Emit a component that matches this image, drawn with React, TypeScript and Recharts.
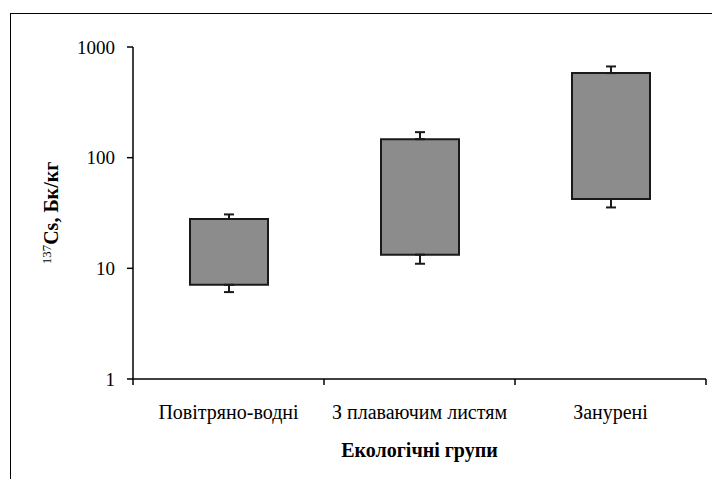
import React from 'react';
import { ComposedChart, Bar, XAxis, YAxis, ErrorBar } from 'recharts';

const categories = ['Повітряно-водні', 'З плаваючим листям', 'Занурені'];
const boxLow = [7.1, 13.3, 42.3];
const boxHigh = [27.9, 147, 581];
const whiskerLow = [6.1, 11.0, 35.5];
const whiskerHigh = [30.7, 170, 667];
const yTicks = [1, 10, 100, 1000];
const xTitle = 'Екологічні групи';
const yTitleSup = '137';
const yTitleMain = 'Cs, Бк/кг';

const data = categories.map((name, i) => ({
  name,
  box: [boxLow[i], boxHigh[i]],
  upper: [0, whiskerHigh[i] - boxHigh[i]],
  lower: [boxHigh[i] - whiskerLow[i], boxLow[i] - boxHigh[i]],
}));

const FONT = '"Liberation Serif", "Times New Roman", serif';
const TICK_SIZE = 6;
const TICK_MARGIN = 14;

const CategoryTick = (props: any) => {
  const { x, y, payload, index } = props;
  const half = payload && payload.offset ? payload.offset : 95.5;
  const axisY = y - TICK_SIZE - TICK_MARGIN;
  return (
    <g>
      <line x1={x - half} x2={x - half} y1={axisY} y2={axisY + TICK_SIZE} stroke="#000" strokeWidth={1.5} />
      {index === categories.length - 1 && (
        <line x1={x + half} x2={x + half} y1={axisY} y2={axisY + TICK_SIZE} stroke="#000" strokeWidth={1.5} />
      )}
      <text x={x} y={y} dy={20} textAnchor="middle" fontFamily={FONT} fontSize={20} fill="#000">
        {payload.value}
      </text>
    </g>
  );
};

const YTitle = (props: any) => {
  const { viewBox } = props;
  const cx = 58;
  const cy = viewBox.y + viewBox.height / 2;
  return (
    <text
      x={cx}
      y={cy}
      transform={`rotate(-90, ${cx}, ${cy})`}
      textAnchor="middle"
      fontFamily={FONT}
      fill="#000"
    >
      <tspan fontSize={13} dy={-7}>{yTitleSup}</tspan>
      <tspan fontSize={20} fontWeight="bold" dy={7}>{yTitleMain}</tspan>
    </text>
  );
};

const XTitle = (props: any) => {
  const { viewBox } = props;
  const cx = viewBox.x + viewBox.width / 2;
  return (
    <text x={cx} y={457} textAnchor="middle" fontFamily={FONT} fontSize={20} fontWeight="bold" fill="#000">
      {xTitle}
    </text>
  );
};

export default function App() {
  return (
    <div style={{ position: 'absolute', left: 0, top: 0, width: 712, height: 479, overflow: 'hidden', background: '#fff' }}>
      <div style={{ position: 'absolute', left: 10, top: 13, width: 760, height: 520, border: '1px solid #000' }} />
      <div style={{ position: 'absolute', left: 0, top: 0 }}>
        <ComposedChart
          width={712}
          height={479}
          data={data}
          margin={{ top: 47, right: 6, bottom: 0, left: 73 }}
        >
          <XAxis
            dataKey="name"
            type="category"
            height={100}
            axisLine={{ stroke: '#000', strokeWidth: 1.5 }}
            tickLine={false}
            tickSize={TICK_SIZE}
            tickMargin={TICK_MARGIN}
            tick={<CategoryTick />}
            interval={0}
            label={<XTitle />}
          />
          <YAxis
            type="number"
            scale="log"
            domain={[1, 1000]}
            allowDataOverflow
            ticks={yTicks}
            width={60}
            axisLine={{ stroke: '#000', strokeWidth: 1.5 }}
            tickLine={{ stroke: '#000', strokeWidth: 1.5 }}
            tickSize={TICK_SIZE}
            tickMargin={12}
            tick={{ fontFamily: FONT, fontSize: 19, fill: '#000' }}
            label={<YTitle />}
          />
          <Bar
            dataKey="box"
            barSize={78}
            fill="#8c8c8c"
            stroke="#1a1a1a"
            strokeWidth={2}
            isAnimationActive={false}
          >
            <ErrorBar dataKey="upper" width={5} stroke="#1a1a1a" strokeWidth={2} direction="y" />
            <ErrorBar dataKey="lower" width={5} stroke="#1a1a1a" strokeWidth={2} direction="y" />
          </Bar>
        </ComposedChart>
      </div>
    </div>
  );
}
